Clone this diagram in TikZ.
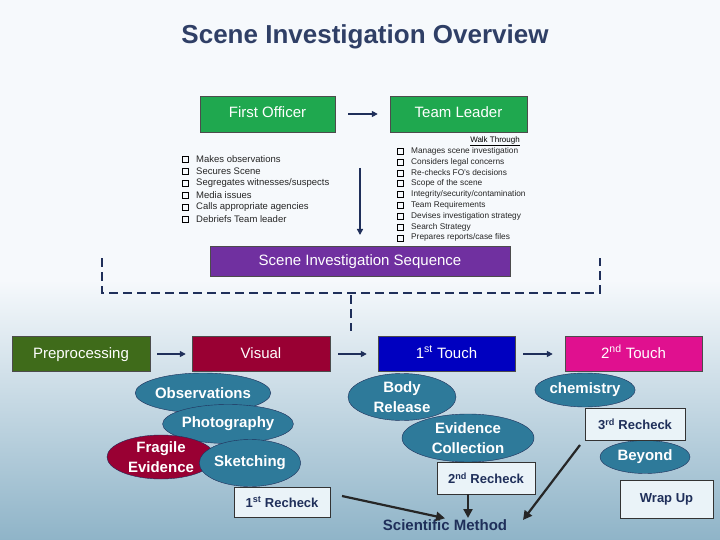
\documentclass[tikz,border=0pt]{standalone}
\usepackage{fontspec}
\setmainfont{Liberation Sans}
\usetikzlibrary{shapes.geometric,arrows.meta}
\definecolor{navy}{HTML}{1F2F5A}
\definecolor{titlec}{HTML}{2F3F66}
\definecolor{fgreen}{HTML}{1FA84F}
\definecolor{olive}{HTML}{3F6B1A}
\definecolor{wine}{HTML}{990033}
\definecolor{tblue}{HTML}{0000C0}
\definecolor{mag}{HTML}{E0108F}
\definecolor{purp}{HTML}{7030A0}
\definecolor{teal}{HTML}{2E7A9A}
\definecolor{lbox}{HTML}{EAF3F8}
\definecolor{bgtop}{HTML}{F6F9FC}
\definecolor{bgbot}{HTML}{8FB4C8}
\begin{document}
\begin{tikzpicture}[x=1pt,y=-1pt,
  hbox/.style={draw=black!70,text=white,font=\fontsize{15}{17}\selectfont,inner sep=0pt,text height=11pt,text depth=3pt},
  ell/.style={ellipse,draw=navy,fill=teal,text=white,font=\bfseries\fontsize{15}{20}\selectfont,inner sep=0pt,align=center},
  rbox/.style={draw=black!80,fill=lbox,text=navy,font=\bfseries\fontsize{13}{15}\selectfont,inner sep=0pt},
  arr/.style={-{Triangle[length=6pt,width=6pt]},line width=1.8pt,draw=navy},
  blk/.style={-{Triangle[length=9pt,width=9pt]},line width=2.2pt,draw=black!85},
  dsh/.style={dashed,dash pattern=on 9pt off 5pt,line width=2.4pt,draw=navy},
  lst/.style={anchor=west,font=\fontsize{9.5}{10}\selectfont,inner sep=0pt,text=black!85}]
\shade[top color=bgtop,bottom color=bgtop] (0,0) rectangle (720,280);
\shade[top color=bgtop,bottom color=bgbot] (0,280) rectangle (720,540);
\useasboundingbox (0,0) rectangle (720,540);
\node[text=titlec,font=\bfseries\fontsize{26}{28}\selectfont] (title) at (365,37) {Scene Investigation Overview};
\node[hbox,fill=fgreen,minimum width=135pt,minimum height=36pt] (fo) at (267.5,114) {First Officer};
\node[hbox,fill=fgreen,minimum width=137pt,minimum height=36pt] (tl) at (458.5,114) {Team Leader};
\draw[arr] ([xshift=13pt]fo.east) -- ([xshift=-12pt]tl.west);
\foreach \t [count=\i] in {Makes observations,Secures Scene,Segregates witnesses/suspects,Media issues,Calls appropriate agencies,Debriefs Team leader}{
  \node[draw,line width=0.7pt,minimum size=6pt,inner sep=0pt] (cb\i) at (185,147+12*\i) {};
  \node[lst] (lt\i) at (196,147+12*\i) {\t};}
\node[font=\fontsize{8}{9}\selectfont,inner sep=0pt] (wt) at (495,141) {\underline{Walk Through}};
\foreach \t [count=\i] in {Manages scene investigation,Considers legal concerns,Re-checks FO's decisions,Scope of the scene,Integrity/security/contamination,Team Requirements,Devises investigation strategy,Search Strategy,Prepares reports/case files}{
  \node[draw,line width=0.4pt,minimum size=6pt,inner sep=0pt] (cr\i) at (400,140.5+10.8*\i) {};
  \node[lst,font=\fontsize{8.3}{9}\selectfont] (rt\i) at (411,140.5+10.8*\i) {\t};}
\coordinate (v1) at (360,168); \coordinate (v2) at (360,235);
\draw[arr] (v1) -- (v2);
\node[hbox,fill=purp,minimum width=300pt,minimum height=30pt] (sis) at (360,261) {Scene Investigation Sequence};
\coordinate (d1) at (102,258); \coordinate (d2) at (102,293); \coordinate (d3) at (600,293); \coordinate (d4) at (600,258);
\coordinate (d5) at (351,295); \coordinate (d6) at (351,331);
\draw[dsh] (d1) -- (d2) -- (d3) -- (d4);
\draw[dsh] (d5) -- (d6);
\node[hbox,fill=olive,minimum width=138pt,minimum height=35pt] (pre) at (81,354) {Preprocessing};
\node[hbox,fill=wine,minimum width=138pt,minimum height=35pt] (vis) at (261,354) {Visual};
\node[hbox,fill=tblue,minimum width=137pt,minimum height=35pt] (t1) at (446.5,354) {1\textsuperscript{st} Touch};
\node[hbox,fill=mag,minimum width=137pt,minimum height=35pt] (t2) at (633.5,354) {2\textsuperscript{nd} Touch};
\draw[arr] ([xshift=7pt]pre.east) -- ([xshift=-6pt]vis.west);
\draw[arr] ([xshift=8pt]vis.east) -- ([xshift=-11pt]t1.west);
\draw[arr] ([xshift=8pt]t1.east) -- ([xshift=-12pt]t2.west);
\node[ell,minimum width=130pt,minimum height=40pt] (obs) at (203,393) {Observations};
\node[ell,minimum width=130pt,minimum height=39pt] (pho) at (228,424) {Photography};
\node[ell,fill=wine,minimum width=108pt,minimum height=44pt] (fra) at (161,457) {Fragile\\Evidence};
\node[ell,minimum width=100pt,minimum height=47pt] (ske) at (250,463) {Sketching};
\node[ell,minimum width=108pt,minimum height=47pt] (bod) at (402,397) {Body\\Release};
\node[ell,minimum width=132pt,minimum height=48pt] (evc) at (468,438) {Evidence\\Collection};
\node[ell,minimum width=90pt,minimum height=34pt] (che) at (585,390) {chemistry};
\node[ell,minimum width=90pt,minimum height=33pt] (bey) at (645,457) {Beyond};
\node[rbox,minimum width=96pt,minimum height=30pt] (r1) at (282,502) {1\textsuperscript{st} Recheck};
\node[rbox,minimum width=98pt,minimum height=32pt] (r2) at (486,478) {2\textsuperscript{nd} Recheck};
\node[rbox,minimum width=100pt,minimum height=32pt] (r3) at (635,424) {3\textsuperscript{rd} Recheck};
\node[rbox,minimum width=93pt,minimum height=38pt] (wu) at (666.5,499) {Wrap Up};
\node[text=navy,font=\bfseries\fontsize{15}{16}\selectfont,inner sep=1pt] (sm) at (445,525) {Scientific Method};
\coordinate (b1) at (342,496);
\draw[blk] (b1) -- (sm.north);
\draw[blk] (468,494) -- (468,518);
\coordinate (b3) at (580,445);
\draw[blk] (b3) -- (523,520);
\end{tikzpicture}
\end{document}
